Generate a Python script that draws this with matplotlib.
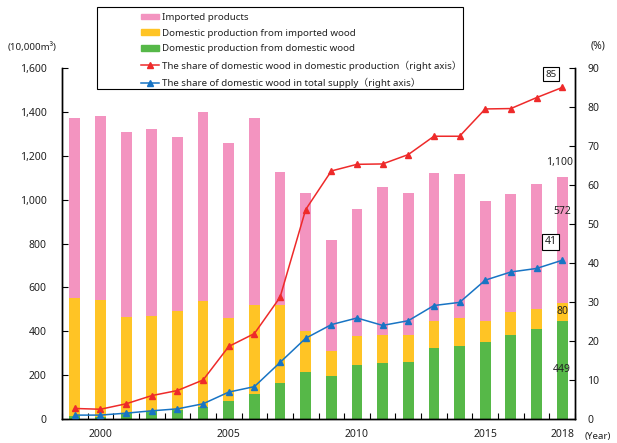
import matplotlib
matplotlib.use('Agg')
import matplotlib.pyplot as plt
import numpy as np
from matplotlib.ticker import FuncFormatter
from matplotlib.patches import Rectangle
from matplotlib.lines import Line2D

plt.rcParams['font.family'] = ['Noto Sans', 'Noto Sans CJK JP', 'DejaVu Sans']

years = list(range(1999, 2019))
domestic_from_domestic = [15, 11, 26, 37, 41, 56, 84, 114, 163, 212, 197, 248, 253, 259, 325, 331, 352, 384, 411, 449]
domestic_from_imported = [535, 530, 439, 434, 450, 482, 378, 404, 357, 187, 112, 131, 131, 122, 123, 131, 93, 105, 90, 80]
imported_products = [821, 841, 845, 853, 793, 861, 798, 855, 608, 629, 508, 576, 673, 650, 675, 653, 547, 535, 569, 572]
share_domestic_production = [2.7, 2.5, 3.9, 6.0, 7.3, 10.0, 18.6, 21.9, 31.2, 53.7, 63.6, 65.3, 65.4, 67.8, 72.5, 72.5, 79.5, 79.6, 82.4, 85.0]
share_total_supply = [1.0, 1.0, 1.5, 2.1, 2.6, 3.9, 6.9, 8.3, 14.5, 20.7, 24.2, 25.9, 24.0, 25.2, 29.1, 29.9, 35.6, 37.7, 38.6, 40.7]
year_labels = [2000, 2005, 2010, 2015, 2018]

PINK = '#F394C0'
YELLOW = '#FFC425'
GREEN = '#56B848'
RED = '#EE2A2A'
BLUE = '#1874C4'
TXT = '#222222'

fig = plt.figure(figsize=(6.17, 4.43), dpi=100)
ax = fig.add_axes([62/617, 1-419/443, 513/617, 351/443])
ax2 = ax.twinx()

x = np.arange(len(years))
g = np.array(domestic_from_domestic)
yv = np.array(domestic_from_imported)
p = np.array(imported_products)
w = 0.42
ax.bar(x, g, w, color=GREEN, zorder=2)
ax.bar(x, yv, w, bottom=g, color=YELLOW, zorder=2)
ax.bar(x, p, w, bottom=g + yv, color=PINK, zorder=2)

ax2.plot(x, share_domestic_production, color=RED, lw=1.1, marker='^', ms=5, zorder=3)
ax2.plot(x, share_total_supply, color=BLUE, lw=1.1, marker='^', ms=5, zorder=3)

ax.set_xlim(-0.5, len(years) - 0.5)
ax.set_ylim(0, 1600)
ax2.set_ylim(0, 90)
ax.set_yticks(np.arange(0, 1601, 200))
ax2.set_yticks(np.arange(0, 91, 10))
ax.yaxis.set_major_formatter(FuncFormatter(lambda v, _: f'{int(v):,}'))

ax.set_xticks(np.arange(-0.5, len(years), 1.0))
ax.set_xticklabels([])
ax.set_xticks([years.index(y) for y in year_labels], minor=True)
ax.set_xticklabels([str(y) for y in year_labels], minor=True)
ax.tick_params(axis='x', which='minor', length=0, pad=7, labelsize=7.5, labelcolor=TXT)
ax.tick_params(axis='x', which='major', direction='in', length=4, width=0.8)
ax.tick_params(axis='y', direction='in', length=4, width=0.8, labelsize=7.5, labelcolor=TXT, pad=11)
ax2.tick_params(axis='y', direction='in', length=4, width=0.8, labelsize=7.5, labelcolor=TXT, pad=9)

for a in (ax, ax2):
    a.spines['top'].set_visible(False)
    for s in ('left', 'right', 'bottom'):
        a.spines[s].set_linewidth(1.0)
        a.spines[s].set_color('black')

fig.text(8/617, 1-47/443, '(10,000m³)', fontsize=7, color=TXT, va='center', ha='left')
fig.text(598/617, 1-46/443, '(%)', fontsize=7.5, color=TXT, va='center', ha='center')
fig.text(598/617, 1-437/443, '(Year)', fontsize=7, color=TXT, va='center', ha='center')

# annotations for 2018
i18 = years.index(2018)
ax.text(i18 - 0.1, 1170, '1,100', fontsize=7.5, color=TXT, ha='center', va='center', zorder=5)
ax.text(i18, 946, '572', fontsize=7.5, color=TXT, ha='center', va='center', zorder=5)
ax.text(i18, 489, '80', fontsize=7.5, color=TXT, ha='center', va='center', zorder=5)
ax.text(i18, 224, '449', fontsize=7.5, color=TXT, ha='center', va='center', zorder=5)
ax2.text(i18 - 0.45, 88.4, '85', fontsize=7, color=TXT, ha='center', va='center', zorder=5,
         bbox=dict(boxstyle='square,pad=0.25', fc='white', ec='black', lw=0.8))
ax2.text(i18 - 0.45, 45.4, '41', fontsize=7.5, color=TXT, ha='center', va='center', zorder=5,
         bbox=dict(boxstyle='square,pad=0.25', fc='white', ec='black', lw=0.8))

handles = [
    Rectangle((0, 0), 1, 1, color=PINK),
    Rectangle((0, 0), 1, 1, color=YELLOW),
    Rectangle((0, 0), 1, 1, color=GREEN),
    Line2D([], [], color=RED, lw=1.1, marker='^', ms=5),
    Line2D([], [], color=BLUE, lw=1.1, marker='^', ms=5),
]
labels = [
    'Imported products',
    'Domestic production from imported wood',
    'Domestic production from domestic wood',
    'The share of domestic wood in domestic production\uff08right axis\uff09',
    'The share of domestic wood in total supply\uff08right axis\uff09',
]
fig.legend(handles, labels, loc='upper left', bbox_to_anchor=(136/617, 1-8/443),
           frameon=False, fontsize=7.0, borderpad=0, handlelength=1.85, handleheight=0.5,
           handletextpad=0.3, labelspacing=0.7, labelcolor=TXT)
fig.patches.append(Rectangle((97/617, 1-89/443), 366/617, 82/443, transform=fig.transFigure,
                             fill=False, ec='black', lw=0.8, figure=fig))

fig.savefig('out.png', dpi=100)
